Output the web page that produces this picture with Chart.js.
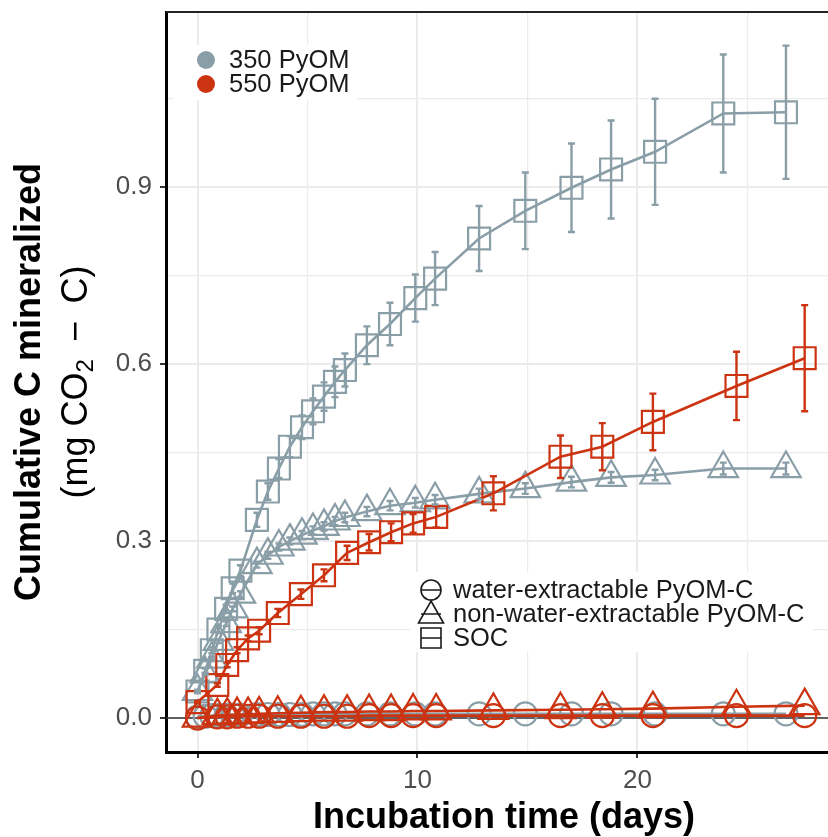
<!DOCTYPE html>
<html>
<head>
<meta charset="utf-8">
<script src="https://cdn.jsdelivr.net/npm/chart.js@4.4.0/dist/chart.umd.min.js"></script>
<style>
  html, body { margin: 0; padding: 0; background: #fff; }
  #wrap { width: 828px; height: 837px; }
</style>
</head>
<body>
<div id="wrap"><canvas id="chart" width="828" height="837"></canvas></div>
<script>
// 350 PyOM (grey)
const days350 = [0, 0.35, 0.65, 0.95, 1.3, 1.6, 1.95, 2.7, 3.2, 3.7, 4.2, 4.75, 5.25, 5.75, 6.25, 6.7, 7.7, 8.75, 9.9, 10.8, 12.8, 14.9, 17.0, 18.8, 20.8, 23.9, 26.75]
const water350 = [0.002, 0.003, 0.004, 0.004, 0.005, 0.005, 0.005, 0.006, 0.006, 0.006, 0.006, 0.006, 0.007, 0.007, 0.007, 0.007, 0.007, 0.007, 0.007, 0.007, 0.007, 0.007, 0.007, 0.007, 0.007, 0.007, 0.007]
const nonWater350 = [0.045, 0.075, 0.10, 0.13, 0.16, 0.185, 0.21, 0.26, 0.276, 0.29, 0.30, 0.31, 0.318, 0.325, 0.334, 0.34, 0.35, 0.36, 0.365, 0.37, 0.38, 0.389, 0.40, 0.408, 0.412, 0.423, 0.423]
const nonWater350Err = [0.002, 0.002, 0.003, 0.003, 0.004, 0.004, 0.005, 0.005, 0.006, 0.006, 0.006, 0.007, 0.007, 0.007, 0.007, 0.008, 0.008, 0.008, 0.008, 0.008, 0.009, 0.009, 0.009, 0.009, 0.009, 0.01, 0.01]
const soc350 = [0.045, 0.08, 0.115, 0.15, 0.185, 0.22, 0.25, 0.336, 0.384, 0.423, 0.46, 0.493, 0.52, 0.545, 0.57, 0.59, 0.632, 0.668, 0.712, 0.745, 0.813, 0.86, 0.899, 0.93, 0.96, 1.025, 1.027]
const soc350Err = [0.003, 0.004, 0.005, 0.006, 0.007, 0.008, 0.009, 0.012, 0.014, 0.016, 0.018, 0.02, 0.022, 0.024, 0.026, 0.028, 0.032, 0.036, 0.04, 0.045, 0.055, 0.065, 0.075, 0.083, 0.09, 0.1, 0.113]

// 550 PyOM (red)
const days550 = [0, 0.9, 1.35, 1.8, 2.3, 2.8, 3.65, 4.7, 5.75, 6.8, 7.8, 8.8, 9.8, 10.85, 13.45, 16.5, 18.4, 20.7, 24.5, 27.6]
const water550 = [0.0, 0.002, 0.002, 0.003, 0.003, 0.003, 0.003, 0.003, 0.003, 0.003, 0.004, 0.004, 0.004, 0.004, 0.004, 0.004, 0.004, 0.004, 0.004, 0.004]
const nonWater550 = [0.0, 0.004, 0.005, 0.006, 0.006, 0.007, 0.008, 0.009, 0.01, 0.01, 0.011, 0.011, 0.012, 0.012, 0.013, 0.014, 0.015, 0.016, 0.019, 0.021]
const soc550 = [0.027, 0.056, 0.09, 0.115, 0.135, 0.148, 0.178, 0.21, 0.242, 0.28, 0.298, 0.315, 0.33, 0.341, 0.381, 0.443, 0.46, 0.502, 0.563, 0.61]
const soc550Err = [0.002, 0.003, 0.004, 0.005, 0.005, 0.006, 0.007, 0.008, 0.01, 0.012, 0.014, 0.015, 0.016, 0.018, 0.029, 0.036, 0.04, 0.048, 0.058, 0.09]

const xTicks = [0, 5, 10, 15, 20, 25]
const xLabels = [0, 10, 20]
const yTicks = [0, 0.15, 0.3, 0.45, 0.6, 0.75, 0.9, 1.05]
const yLabels = [0, 0.3, 0.6, 0.9]

const tempNames = ['350 PyOM', '550 PyOM']
const poolNames = ['water-extractable PyOM-C', 'non-water-extractable PyOM-C', 'SOC']

const grey = '#8a9ea7'
const red = '#cc3311'
const sans = '"Liberation Sans", Arial, Helvetica, sans-serif'

function pts(xs, ys) {
    return xs.map((x, i) => ({ x: x, y: ys[i] }))
}

function series(label, xs, ys, err, color, shape, radius) {
    return {
        label: label,
        data: pts(xs, ys),
        err: err,
        borderColor: color,
        borderWidth: 2.6,
        pointStyle: shape,
        pointRadius: radius,
        pointBorderWidth: 2.2,
        pointBorderColor: color,
        pointBackgroundColor: 'rgba(0,0,0,0)',
        showLine: true,
        tension: 0
    }
}

const datasets = [
    series('550 water', days550, water550, null, red, 'circle', 11.5),
    series('550 non-water', days550, nonWater550, null, red, 'triangle', 17),
    series('550 SOC', days550, soc550, soc550Err, red, 'rect', 15.5),
    series('350 water', days350, water350, null, grey, 'circle', 11.5),
    series('350 non-water', days350, nonWater350, nonWater350Err, grey, 'triangle', 17),
    series('350 SOC', days350, soc350, soc350Err, grey, 'rect', 15.5)
]

const decor = {
    id: 'decor',
    beforeDatasetsDraw(chart) {
        const ctx = chart.ctx
        const a = chart.chartArea
        const ys = chart.scales.y
        const y0 = ys.getPixelForValue(0)
        ctx.save()
        ctx.strokeStyle = '#333'
        ctx.lineWidth = 1.5
        ctx.beginPath()
        ctx.moveTo(a.left, y0)
        ctx.lineTo(a.right, y0)
        ctx.stroke()
        // top panel border
        ctx.strokeStyle = '#222'
        ctx.lineWidth = 2
        ctx.beginPath()
        ctx.moveTo(a.left, a.top)
        ctx.lineTo(a.right, a.top)
        ctx.stroke()
        ctx.restore()
    },
    afterDatasetsDraw(chart) {
        const ctx = chart.ctx
        const xs = chart.scales.x
        const ys = chart.scales.y
        ctx.save()
        chart.data.datasets.forEach(ds => {
            if (!ds.err) return
            ctx.strokeStyle = ds.borderColor
            ctx.lineWidth = 2.4
            ds.data.forEach((p, i) => {
                const e = ds.err[i]
                if (!e) return
                const px = xs.getPixelForValue(p.x)
                const top = ys.getPixelForValue(p.y + e)
                const bot = ys.getPixelForValue(p.y - e)
                ctx.beginPath()
                ctx.moveTo(px, top)
                ctx.lineTo(px, bot)
                ctx.moveTo(px - 3.5, top)
                ctx.lineTo(px + 3.5, top)
                ctx.moveTo(px - 3.5, bot)
                ctx.lineTo(px + 3.5, bot)
                ctx.stroke()
            })
        })

        // temperature legend
        ctx.fillStyle = '#fff'
        ctx.fillRect(173, 45, 184, 55)
        ctx.font = '25.5px ' + sans
        ctx.textBaseline = 'middle'
        ctx.textAlign = 'left'
        ;[grey, red].forEach((c, i) => {
            const y = 60 + i * 24
            ctx.fillStyle = c
            ctx.beginPath()
            ctx.arc(206, y, 9, 0, Math.PI * 2)
            ctx.fill()
            ctx.fillStyle = '#1a1a1a'
            ctx.fillText(tempNames[i], 229, y + 1)
        })

        // pool legend
        ctx.fillStyle = '#fff'
        ctx.fillRect(410, 572, 403, 80)
        ctx.strokeStyle = '#1a1a1a'
        ctx.lineWidth = 1.6
        const kx = 431
        poolNames.forEach((name, i) => {
            const y = 590 + i * 24
            ctx.beginPath()
            if (i === 0) {
                ctx.arc(kx, y, 10, 0, Math.PI * 2)
            } else if (i === 1) {
                ctx.moveTo(kx, y - 13)
                ctx.lineTo(kx + 12.5, y + 9)
                ctx.lineTo(kx - 12.5, y + 9)
                ctx.closePath()
            } else {
                ctx.rect(kx - 10, y - 10, 20, 20)
            }
            ctx.moveTo(kx - 10, y)
            ctx.lineTo(kx + 10, y)
            ctx.stroke()
            ctx.fillStyle = '#1a1a1a'
            ctx.fillText(name, 453, y + 1)
        })
        ctx.restore()
    },
    afterDraw(chart) {
        const ctx = chart.ctx
        const a = chart.chartArea
        ctx.save()
        ctx.fillStyle = '#000'
        ctx.textAlign = 'center'
        ctx.textBaseline = 'middle'
        ctx.font = 'bold 36px ' + sans
        ctx.fillText('Incubation time (days)', 504, 818)

        const cy = (a.top + a.bottom) / 2
        ctx.translate(30, cy)
        ctx.rotate(-Math.PI / 2)
        ctx.fillText('Cumulative C mineralized', 0, 0)

        // second line with subscript
        const big = '36px ' + sans
        const small = '24px ' + sans
        const parts = [['(mg CO', big, 0], ['2', small, 9], [' \u2009\u2212\u2009 C)', big, 0]]
        let w = 0
        parts.forEach(p => { ctx.font = p[1]; w += ctx.measureText(p[0]).width })
        let x = -w / 2
        ctx.textAlign = 'left'
        parts.forEach(p => {
            ctx.font = p[1]
            ctx.fillText(p[0], x, 47 + p[2])
            x += ctx.measureText(p[0]).width
        })
        ctx.restore()
    }
}

const isIn = (arr, v) => arr.some(t => Math.abs(t - v) < 1e-9)

new Chart(document.getElementById('chart'), {
    type: 'scatter',
    data: { datasets: datasets },
    options: {
        responsive: false,
        animation: false,
        events: [],
        layout: { autoPadding: false, padding: { top: 12, right: 0, left: 0, bottom: 0 } },
        plugins: { legend: { display: false }, tooltip: { enabled: false } },
        scales: {
            x: {
                type: 'linear',
                min: -1.432,
                max: 28.66,
                afterFit(scale) {
                    scale.height = 85
                    scale.paddingLeft = 0
                    scale.paddingRight = 0
                },
                afterBuildTicks(scale) { scale.ticks = xTicks.map(v => ({ value: v })) },
                border: { display: true, color: '#000', width: 3 },
                grid: {
                    color: '#ebebeb',
                    lineWidth: c => isIn(xLabels, c.tick.value) ? 2 : 1.2,
                    tickColor: c => isIn(xLabels, c.tick.value) ? '#333' : 'rgba(0,0,0,0)',
                    tickLength: 6,
                    tickWidth: 2
                },
                ticks: {
                    autoSkip: false,
                    maxRotation: 0,
                    padding: 7,
                    color: '#4d4d4d',
                    font: { size: 26, family: sans },
                    callback: v => isIn(xLabels, v) ? String(v) : ''
                }
            },
            y: {
                type: 'linear',
                min: -0.0576,
                max: 1.197,
                afterFit(scale) {
                    scale.width = 166
                    scale.paddingTop = 0
                    scale.paddingBottom = 0
                },
                afterBuildTicks(scale) { scale.ticks = yTicks.map(v => ({ value: v })) },
                border: { display: true, color: '#000', width: 3 },
                grid: {
                    color: '#ebebeb',
                    lineWidth: c => isIn(yLabels, c.tick.value) ? 2 : 1.2,
                    tickColor: c => isIn(yLabels, c.tick.value) ? '#333' : 'rgba(0,0,0,0)',
                    tickLength: 6,
                    tickWidth: 2
                },
                ticks: {
                    autoSkip: false,
                    padding: 8,
                    color: '#4d4d4d',
                    font: { size: 26, family: sans },
                    callback: v => isIn(yLabels, v) ? v.toFixed(1) : ''
                }
            }
        }
    },
    plugins: [decor]
})
</script>
</body>
</html>
